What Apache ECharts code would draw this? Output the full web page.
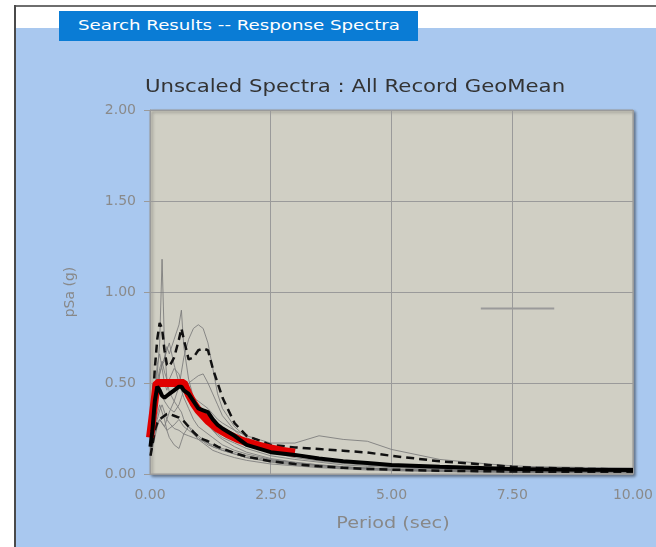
<!DOCTYPE html>
<html>
<head>
<meta charset="utf-8">
<script src="https://cdn.jsdelivr.net/npm/echarts@6/dist/echarts.min.js"></script>
<style>
  html, body { margin: 0; padding: 0; background: #ffffff; }
  #page { position: relative; width: 656px; height: 547px; overflow: hidden; background: #ffffff; }
  #frameTop { position: absolute; left: 15px; top: 5px; right: 0; height: 2px; background: #6e6e6e; }
  #frameLeft { position: absolute; left: 14px; top: 5px; bottom: 0; width: 2px; background: #4a4a4a; }
  #panel { position: absolute; left: 16px; top: 28px; right: 0; bottom: 0; background: #a9c8ef; }
  #tab { position: absolute; left: 59px; top: 11px; width: 359px; height: 30px; background: #0a7cd5; }
  #tabText { position: absolute; left: 19px; top: 0; color: #ffffff; white-space: nowrap;
             font-family: "DejaVu Sans", Verdana, sans-serif; font-size: 14px; line-height: 29px;
             transform: scaleX(1.3); transform-origin: 0 50%; }
  #chart { position: absolute; left: 0; top: 0; width: 656px; height: 547px; }
</style>
</head>
<body>
<div id="page">
  <div id="panel"></div>
  <div id="frameTop"></div>
  <div id="frameLeft"></div>
  <div id="tab"><span id="tabText">Search Results -- Response Spectra</span></div>
  <div id="chart"></div>
</div>
<script>
// Spectral periods (sec) shared by all record spectra
const periods = [0.01, 0.05, 0.1, 0.15, 0.2, 0.25, 0.3, 0.35, 0.4, 0.5, 0.6, 0.65, 0.7, 0.8, 0.9, 1.0,
                 1.1, 1.2, 1.3, 1.4, 1.5, 1.75, 2.0, 2.5, 3.0, 3.5, 4.0, 4.5, 5.0, 6.0, 7.0, 7.5, 8.0, 9.0, 10.0];

// Individual record spectra, pSa (g)
const rec1 = [0.16,0.22,0.38,0.55,0.72,1.18,0.70,0.52,0.45,0.40,0.36,0.34,0.30,0.26,0.22,0.19,0.17,0.15,0.13,0.12,0.11,0.09,0.075,0.055,0.045,0.035,0.028,0.022,0.018,0.013,0.010,0.009,0.008,0.007,0.006];
const rec2 = [0.14,0.20,0.30,0.42,0.55,0.60,0.62,0.70,0.66,0.74,0.82,0.90,0.70,0.52,0.42,0.36,0.32,0.28,0.24,0.21,0.19,0.15,0.12,0.085,0.065,0.05,0.04,0.032,0.026,0.018,0.014,0.012,0.011,0.009,0.008];
const rec3 = [0.12,0.16,0.22,0.28,0.30,0.28,0.26,0.30,0.34,0.40,0.48,0.56,0.64,0.74,0.80,0.82,0.80,0.72,0.58,0.44,0.36,0.26,0.20,0.14,0.11,0.09,0.07,0.055,0.045,0.032,0.024,0.021,0.018,0.015,0.013];
const rec4 = [0.18,0.24,0.36,0.50,0.58,0.62,0.56,0.52,0.50,0.48,0.50,0.52,0.48,0.44,0.42,0.40,0.38,0.36,0.33,0.30,0.28,0.24,0.21,0.17,0.17,0.21,0.19,0.18,0.135,0.08,0.055,0.045,0.04,0.036,0.033];
const rec5 = [0.14,0.18,0.26,0.33,0.38,0.34,0.30,0.24,0.20,0.16,0.14,0.18,0.22,0.26,0.24,0.21,0.19,0.17,0.15,0.14,0.13,0.11,0.09,0.07,0.055,0.045,0.036,0.03,0.025,0.018,0.014,0.012,0.011,0.009,0.008];
const rec6 = [0.20,0.28,0.45,0.60,0.66,0.58,0.50,0.46,0.52,0.58,0.55,0.50,0.46,0.40,0.36,0.34,0.30,0.27,0.24,0.22,0.20,0.17,0.14,0.10,0.08,0.065,0.05,0.042,0.035,0.025,0.019,0.017,0.015,0.012,0.011];
const rec7 = [0.10,0.14,0.20,0.26,0.30,0.28,0.26,0.24,0.25,0.27,0.30,0.28,0.26,0.24,0.22,0.20,0.18,0.16,0.15,0.14,0.13,0.11,0.09,0.065,0.05,0.04,0.032,0.027,0.022,0.016,0.012,0.011,0.01,0.008,0.007];
const rec8 = [0.15,0.20,0.32,0.46,0.55,0.60,0.64,0.68,0.72,0.60,0.50,0.46,0.42,0.36,0.30,0.26,0.24,0.22,0.20,0.18,0.16,0.13,0.11,0.08,0.062,0.05,0.04,0.033,0.027,0.019,0.015,0.013,0.012,0.01,0.009];
const rec9 = [0.12,0.16,0.24,0.30,0.35,0.38,0.34,0.30,0.28,0.25,0.24,0.23,0.22,0.21,0.20,0.19,0.18,0.17,0.16,0.15,0.14,0.12,0.10,0.075,0.06,0.048,0.038,0.031,0.026,0.018,0.014,0.012,0.011,0.009,0.008];
const rec10 = [0.16,0.22,0.34,0.42,0.48,0.44,0.40,0.38,0.36,0.34,0.38,0.42,0.46,0.50,0.52,0.54,0.55,0.50,0.44,0.38,0.32,0.24,0.18,0.12,0.09,0.072,0.058,0.048,0.04,0.028,0.021,0.019,0.017,0.014,0.012];
const records = [rec1, rec2, rec3, rec4, rec5, rec6, rec7, rec8, rec9, rec10];

// Geometric mean of all records and the +/- one sigma bounds
const geoMean = [0.15,0.24,0.40,0.48,0.46,0.43,0.42,0.43,0.44,0.46,0.48,0.48,0.46,0.44,0.40,0.36,0.35,0.34,0.30,0.27,0.25,0.21,0.16,0.12,0.105,0.085,0.07,0.06,0.05,0.04,0.032,0.028,0.026,0.023,0.022];
const plusSigma = [0.24,0.36,0.58,0.74,0.83,0.80,0.68,0.60,0.59,0.64,0.74,0.80,0.74,0.63,0.64,0.68,0.69,0.68,0.58,0.50,0.42,0.28,0.21,0.16,0.146,0.137,0.128,0.118,0.10,0.07,0.05,0.04,0.034,0.028,0.025];
const minusSigma = [0.10,0.16,0.24,0.28,0.30,0.31,0.32,0.33,0.33,0.32,0.31,0.30,0.29,0.26,0.23,0.205,0.19,0.18,0.165,0.15,0.14,0.115,0.095,0.07,0.055,0.042,0.034,0.028,0.024,0.018,0.015,0.014,0.013,0.012,0.012];

// Target design spectrum
const targetPeriods = [0, 0.14, 0.2, 0.3, 0.5, 0.7, 0.8, 0.9, 1.0, 1.2, 1.4, 1.6, 1.8, 2.0, 2.25, 2.5, 2.75, 3.0];
const targetSa = [0.20, 0.50, 0.50, 0.50, 0.50, 0.50, 0.438, 0.389, 0.35, 0.292, 0.25, 0.219, 0.194, 0.175, 0.156, 0.14, 0.127, 0.117];

// Stray reference segment
const segPeriods = [6.85, 8.37];
const segSa = [0.91, 0.91];

// Axis ticks
const xTicks = [0, 2.5, 5, 7.5, 10];
const yTicks = [0, 0.5, 1, 1.5, 2];

const pairs = (xs, ys) => xs.map((x, i) => [x, ys[i]]);

const series = [];
records.forEach((r, i) => {
  series.push({
    name: 'Record ' + (i + 1), type: 'line', data: pairs(periods, r), symbol: 'none',
    lineStyle: { color: '#7a7a7a', width: 1, opacity: 0.85 }, z: 2, silent: true
  });
});
series.push({
  name: 'Mean + Sigma', type: 'line', data: pairs(periods, plusSigma), symbol: 'none',
  lineStyle: { color: '#111', width: 2.5, type: [8, 5] }, z: 3
});
series.push({
  name: 'Mean - Sigma', type: 'line', data: pairs(periods, minusSigma), symbol: 'none',
  lineStyle: { color: '#111', width: 2.5, type: [8, 5] }, z: 3
});
series.push({
  name: 'Target', type: 'line', data: pairs(targetPeriods, targetSa), symbol: 'none',
  lineStyle: { color: '#e00000', width: 8 }, z: 4
});
series.push({
  name: 'GeoMean', type: 'line', data: pairs(periods, geoMean), symbol: 'none',
  lineStyle: { color: '#000', width: 4 }, z: 5
});
series.push({
  name: 'Segment', type: 'line', data: pairs(segPeriods, segSa), symbol: 'none',
  lineStyle: { color: '#9a9a9a', width: 2 }, z: 2
});

const labelFont = { color: '#8a8a8a', fontFamily: 'DejaVu Sans', fontSize: 14 };

const chart = echarts.init(document.getElementById('chart'), null, { renderer: 'canvas' });
chart.setOption({
  animation: false,
  graphic: [
    {
      // chart title, drawn wide
      type: 'text', x: 355, y: 88, scaleX: 1.25, originX: 0, originY: 0,
      style: {
        text: 'Unscaled Spectra : All Record GeoMean', fill: '#333',
        font: '17px "DejaVu Sans"', align: 'center', verticalAlign: 'middle'
      }
    },
    {
      // x axis title
      type: 'text', x: 393, y: 524, scaleX: 1.2,
      style: {
        text: 'Period (sec)', fill: '#888',
        font: '16px "DejaVu Sans"', align: 'center', verticalAlign: 'middle'
      }
    }
  ],
  grid: {
    left: 150, top: 110, width: 485, height: 364,
    show: true, backgroundColor: '#d0cfc4', borderColor: '#9a9a9a', borderWidth: 1,
    shadowColor: 'rgba(0,0,0,0.45)', shadowBlur: 3, shadowOffsetX: 2, shadowOffsetY: 2
  },
  xAxis: {
    type: 'value', min: xTicks[0], max: xTicks[xTicks.length - 1], interval: 2.5,
    axisLine: { show: true, lineStyle: { color: '#9a9a9a' } },
    axisTick: { show: false },
    axisLabel: Object.assign({ margin: 14, formatter: v => v.toFixed(2) }, labelFont),
    splitLine: { show: true, lineStyle: { color: '#9a9a9a', width: 1 } }
  },
  yAxis: {
    type: 'value', min: yTicks[0], max: yTicks[yTicks.length - 1], interval: 0.5,
    name: 'pSa (g)', nameLocation: 'middle', nameGap: 73,
    nameTextStyle: { color: '#888', fontFamily: 'DejaVu Sans', fontSize: 14, padding: [0, 0, 0, 0] },
    axisLine: { show: true, lineStyle: { color: '#9a9a9a' } },
    axisTick: { show: true, length: 6, lineStyle: { color: '#9a9a9a' } },
    axisLabel: Object.assign({ margin: 14, formatter: v => v.toFixed(2) }, labelFont),
    splitLine: { show: true, lineStyle: { color: '#9a9a9a', width: 1 } }
  },
  series: series
});
</script>
</body>
</html>
